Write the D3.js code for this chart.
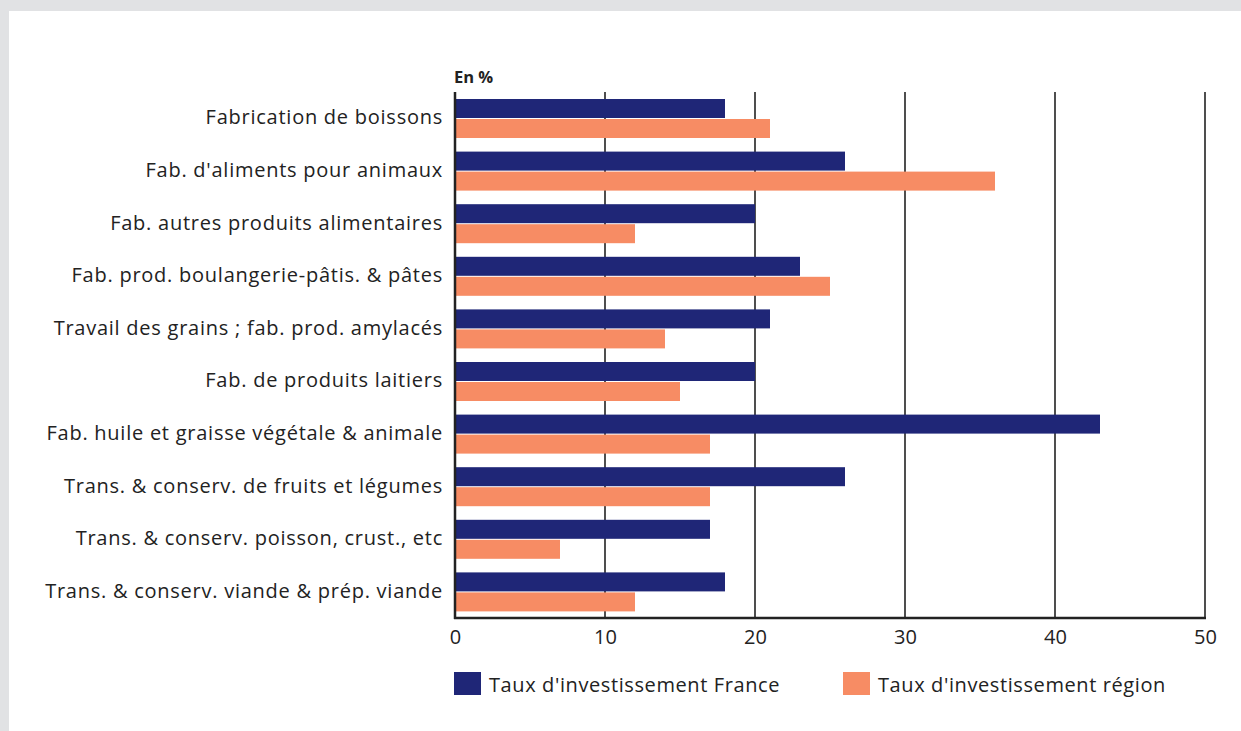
<!DOCTYPE html>
<html>
<head>
<meta charset="utf-8">
<script src="https://cdn.jsdelivr.net/npm/d3@7"></script>
<style>
  body { margin: 0; background: #e1e2e4; }
  #chart { position: absolute; left: 9px; top: 11px; }
</style>
</head>
<body>
<div id="chart"></div>
<script>
// categories, top to bottom
var categories = [
  "Fabrication de boissons",
  "Fab. d'aliments pour animaux",
  "Fab. autres produits alimentaires",
  "Fab. prod. boulangerie-pâtis. & pâtes",
  "Travail des grains ; fab. prod. amylacés",
  "Fab. de produits laitiers",
  "Fab. huile et graisse végétale & animale",
  "Trans. & conserv. de fruits et légumes",
  "Trans. & conserv. poisson, crust., etc",
  "Trans. & conserv. viande & prép. viande"
];
var france = [18, 26, 20, 23, 21, 20, 43, 26, 17, 18];
var region = [21, 36, 12, 25, 14, 15, 17, 17, 7, 12];
var seriesNames = ["Taux d'investissement France", "Taux d'investissement région"];
var colors = ["#1f2677", "#f78c64"];
var xTicks = [0, 10, 20, 30, 40, 50];

var W = 1232, H = 720;
var svg = d3.select("#chart").append("svg").attr("width", W).attr("height", H)
  .style("background", "#fff");

// offsets are relative to the white panel (page minus 9,11)
var mLeft = 446, mRight = 1196, mTop = 81, mBottom = 607;
var font = "'Open Sans', sans-serif";

var x = d3.scaleLinear().domain([0, 50]).range([mLeft, mRight]);
var y0 = d3.scaleBand().domain(categories).range([mTop, mBottom]);
var y1 = d3.scaleBand().domain([0, 1]).range([7, 46]).paddingInner(0.05);

var rows = categories.map(function(c, i) { return { cat: c, vals: [france[i], region[i]] }; });

// grid lines
svg.selectAll(".grid").data(xTicks.slice(1)).enter().append("line")
  .attr("x1", function(d) { return x(d); }).attr("x2", function(d) { return x(d); })
  .attr("y1", mTop).attr("y2", mBottom)
  .style("stroke", "#222").style("stroke-width", 1.6);

var g = svg.selectAll(".row").data(rows).enter().append("g")
  .attr("transform", function(d) { return "translate(0," + y0(d.cat) + ")"; });

g.selectAll("rect").data(function(d) { return d.vals; }).enter().append("rect")
  .attr("x", x(0))
  .attr("y", function(d, i) { return y1(i); })
  .attr("width", function(d) { return x(d) - x(0); })
  .attr("height", y1.bandwidth())
  .style("fill", function(d, i) { return colors[i]; });

// category labels
svg.selectAll(".lab").data(categories).enter().append("text")
  .attr("x", mLeft - 12)
  .attr("y", function(d) { return y0(d) + y0.bandwidth() / 2 - 1; })
  .attr("dy", "0.35em")
  .attr("text-anchor", "end")
  .style("font-family", font).style("font-size", "20px").style("letter-spacing", "0.75px")
  .style("fill", "#222")
  .text(function(d) { return d; });

// axes lines
svg.append("line").attr("x1", mLeft).attr("x2", mLeft).attr("y1", mTop).attr("y2", mBottom + 1)
  .style("stroke", "#222").style("stroke-width", 2.5);
svg.append("line").attr("x1", mLeft - 1).attr("x2", mRight + 1).attr("y1", mBottom).attr("y2", mBottom)
  .style("stroke", "#222").style("stroke-width", 2.5);

var xAxis = svg.append("g").attr("transform", "translate(0," + mBottom + ")")
  .call(d3.axisBottom(x).tickValues(xTicks).tickSize(0).tickPadding(12));
xAxis.select(".domain").remove();
xAxis.selectAll("text").style("font-family", font).style("font-size", "20px").style("fill", "#222");

svg.append("text").attr("x", mLeft - 1).attr("y", 72)
  .style("font-family", font).style("font-size", "16.5px").style("font-weight", "bold").style("fill", "#222")
  .text("En %");

// legend
var legX = [445, 834];
var leg = svg.selectAll(".leg").data(seriesNames).enter().append("g")
  .attr("transform", function(d, i) { return "translate(" + legX[i] + ",661)"; });
leg.append("rect").attr("width", 27).attr("height", 23)
  .style("fill", function(d, i) { return colors[i]; });
leg.append("text").attr("x", 35).attr("y", 13).attr("dy", "0.35em")
  .style("font-family", font).style("font-size", "20px").style("letter-spacing", "0.6px")
  .style("fill", "#222")
  .text(function(d) { return d; });
</script>
</body>
</html>
